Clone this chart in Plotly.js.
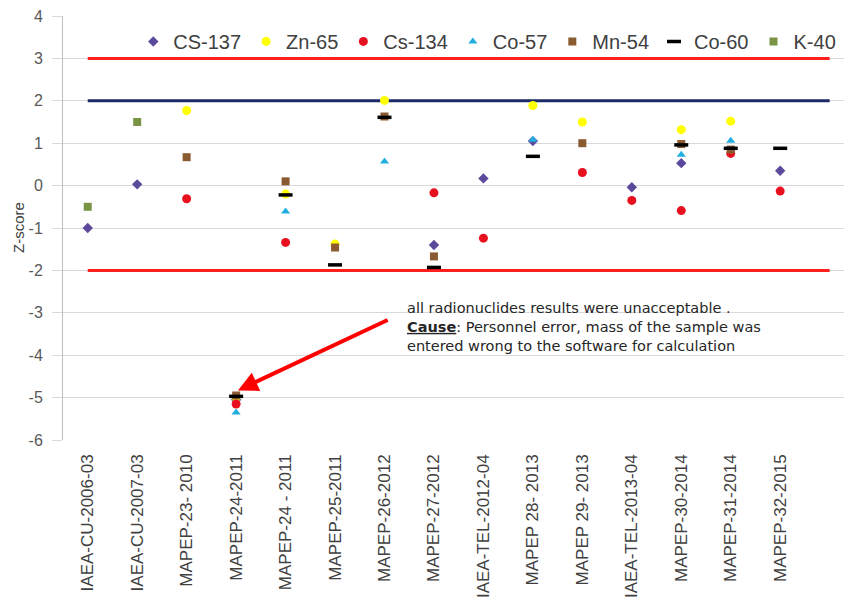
<!DOCTYPE html>
<html>
<head>
<meta charset="utf-8">
<script src="https://cdn.plot.ly/plotly-3.0.1.min.js"></script>
<style>html,body{margin:0;padding:0;background:#fff;overflow:hidden;}</style>
</head>
<body>
<div id="chart" style="width:844px;height:599px;"></div>
<script>
// Categories (last blank slot is the extra category the limit lines run to)
const categories = ["IAEA-CU-2006-03","IAEA-CU-2007-03","MAPEP-23- 2010","MAPEP-24-2011","MAPEP-24 - 2011","MAPEP-25-2011","MAPEP-26-2012","MAPEP-27-2012","IAEA-TEL-2012-04","MAPEP 28- 2013","MAPEP 29- 2013","IAEA-TEL-2013-04","MAPEP-30-2014","MAPEP-31-2014","MAPEP-32-2015"," "];

const cs137 = [-1.0, 0.03, null, -5.05, null, null, null, -1.40, 0.17, 1.05, null, -0.04, 0.53, null, 0.35];
const zn65  = [null, null, 1.77, -5.0, -0.20, -1.38, 2.01, null, null, 1.89, 1.50, null, 1.32, 1.52, null];
const cs134 = [null, null, -0.31, -5.15, -1.34, null, null, -0.17, -1.24, null, 0.31, -0.35, -0.59, 0.76, -0.13];
const co57  = [null, null, null, -5.35, -0.61, null, 0.57, null, null, 1.08, null, null, 0.73, 1.06, null];
const mn54  = [null, null, 0.67, -4.95, 0.10, -1.46, 1.63, -1.67, null, null, 1.00, null, 0.98, 0.85, null];
const co60  = [null, null, null, -4.97, -0.22, -1.87, 1.61, -1.93, null, 0.69, null, null, 0.96, 0.88, 0.88];
const k40   = [-0.5, 1.5, null, null, null, null, null, null, null, null, null, null, null, null, null];

const upperLimit = 3;
const warnLimit = 2;
const lowerLimit = -2;

const yTickVals = [-6,-5,-4,-3,-2,-1,0,1,2,3,4];
const yTickText = ["-6","-5","-4","-3","-2","-1","0","1","2","3","4"];

const dataCats = categories.slice(0, 15);
const lineX = [categories[0], categories[categories.length-1]];

function series(name, y, symbol, color, size, lineColor, lineWidth) {
  return {
    type: 'scatter', mode: 'markers', name: name, x: dataCats, y: y,
    marker: {symbol: symbol, color: color, size: size,
             line: {color: lineColor || color, width: lineWidth === undefined ? 0 : lineWidth}},
    cliponaxis: false
  };
}
function limitLine(v, color) {
  return {type:'scatter', mode:'lines', x: lineX, y: [v, v], showlegend:false, hoverinfo:'skip',
          line:{color: color, width: 3}};
}

const traces = [
  limitLine(upperLimit, '#FF1F1F'),
  limitLine(warnLimit, '#1B2A66'),
  limitLine(lowerLimit, '#FF1F1F'),
  series('CS-137', cs137, 'diamond', '#5B4A9B', 8),
  series('Zn-65', zn65, 'circle', '#FFFF00', 9),
  series('Cs-134', cs134, 'circle', '#E8101E', 9),
  series('Co-57', co57, 'triangle-up', '#22AEE0', 8),
  series('Mn-54', mn54, 'square', '#8A5A30', 8),
  series('Co-60', co60, 'line-ew', '#000000', 10, '#000000', 3.5),
  series('K-40', k40, 'square', '#7A9446', 8)
];

const layout = {
  width: 844, height: 599,
  margin: {l: 63, r: 0, t: 16, b: 159},
  paper_bgcolor: '#fff', plot_bgcolor: '#fff',
  font: {family: 'Liberation Sans, Arial, sans-serif', color: '#404040'},
  showlegend: true,
  legend: {orientation: 'h', x: 0.09, xanchor: 'left', y: 0.94, yanchor: 'middle',
           font: {size: 20, color: '#404040'}, bgcolor: 'rgba(0,0,0,0)', itemwidth: 30,
           tracegroupgap: 0},
  xaxis: {type: 'category', categoryorder: 'array', categoryarray: categories,
          range: [-0.5, 15.29], tickangle: -90, showgrid: false, zeroline: false,
          showline: false, ticks: '', ticklabelstandoff: 10,
          tickfont: {size: 17, color: '#404040'}, fixedrange: true},
  yaxis: {range: [-6, 4], tickvals: yTickVals, ticktext: yTickText, showgrid: true, gridcolor: '#D9D9D9', gridwidth: 1,
          zeroline: false, showline: true, linecolor: '#BFBFBF', linewidth: 1,
          ticks: 'outside', ticklen: 10, tickcolor: '#D9D9D9',
          ticklabelstandoff: 6,
          tickfont: {size: 16, color: '#595959'}},
  annotations: [
    {xref: 'paper', yref: 'paper', x: -(63-18)/781, y: 0.5, xanchor: 'center', yanchor: 'middle',
     textangle: -90, showarrow: false, text: 'Z-score',
     font: {family: 'Liberation Sans, Arial, sans-serif', size: 15, color: '#404040'}},
    {xref: 'paper', yref: 'paper', x: (405-63)/781, y: (440-298)/424, xanchor: 'left', yanchor: 'top',
     align: 'left', showarrow: false,
     text: 'all radionuclides results were unacceptable .<br><b><u>Cause</u></b>: Personnel error, mass of the sample was<br>entered wrong to the software for calculation',
     font: {family: 'DejaVu Sans, sans-serif', size: 14.5, color: '#262626'}},
    {xref: 'x', yref: 'y', x: categories[3], y: -4.85, ax: 153, ay: -72, text: '',
     showarrow: true, arrowhead: 2, arrowsize: 1, arrowwidth: 4, arrowcolor: '#FF0000', standoff: 2}
  ]
};

Plotly.newPlot('chart', traces, layout, {displayModeBar: false, staticPlot: true});
</script>
</body>
</html>
